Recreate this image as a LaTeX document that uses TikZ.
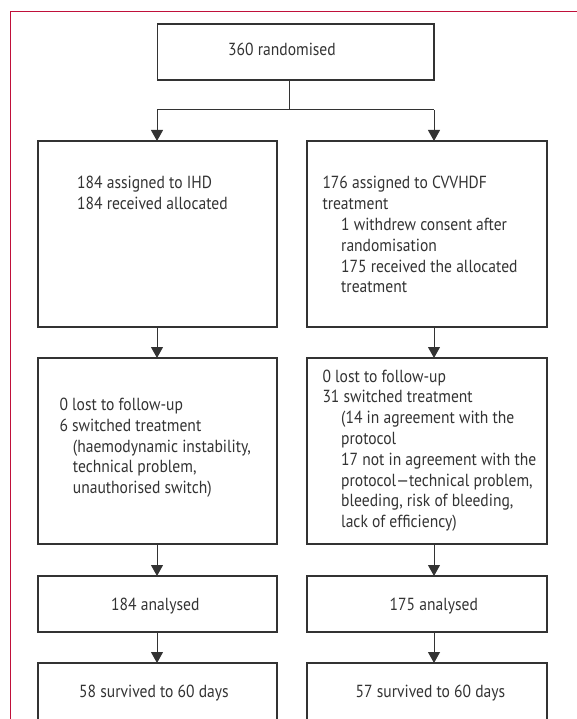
\documentclass[tikz,border=0pt]{standalone}
\usepackage{fontspec}
\setmainfont[FakeStretch=0.89]{PT Sans}
\usetikzlibrary{arrows.meta}
\definecolor{framered}{HTML}{C0103A}
\definecolor{ink}{HTML}{333333}
\newcommand{\lns}[1]{\begin{tabular}[t]{@{}l@{}}#1\end{tabular}}
\begin{document}
\begin{tikzpicture}[x=1pt,y=-1pt,
  box/.style={draw=ink, line width=1.1pt, anchor=north west, inner sep=0pt, outer sep=0pt},
  txt/.style={text=ink, font=\fontsize{17.5}{20.8}\selectfont, inner sep=0pt, anchor=base west},
  ctxt/.style={txt, anchor=base},
  conn/.style={draw=ink, line width=1pt},
  arr/.style={conn, -{Triangle[width=12pt,length=11pt]}}]
\useasboundingbox (0,0) rectangle (577,719);
\draw[framered, line width=1pt] (580,12) -- (10,12) -- (10,725);
% boxes
\node[box, minimum width=276.5pt, minimum height=56pt] (rand) at (157.5,24) {};
\node[box, minimum width=239pt, minimum height=186pt] (ihd) at (38,141) {};
\node[box, minimum width=240pt, minimum height=186pt] (cvv) at (307,141) {};
\node[box, minimum width=239pt, minimum height=186pt] (fl) at (38,358) {};
\node[box, minimum width=240pt, minimum height=186pt] (fr) at (307,358) {};
\node[box, minimum width=239pt, minimum height=56pt] (al) at (38,576) {};
\node[box, minimum width=240pt, minimum height=56pt] (ar) at (307,576) {};
\node[box, minimum width=239pt, minimum height=60pt] (sl) at (38,663) {};
\node[box, minimum width=240pt, minimum height=60pt] (sr) at (307,663) {};
% connectors
\coordinate (split) at (289,110);
\coordinate (jl) at (157,110);
\coordinate (jr) at (434,110);
\draw[conn] (rand.south -| split) -- (split);
\draw[conn] (jl) -- (jr);
\draw[arr] (jl) -- (jl |- ihd.north);
\draw[arr] (jr) -- (jr |- cvv.north);
\draw[arr] (ihd.south -| jl) -- (fl.north -| jl);
\draw[arr] (cvv.south -| jr) -- (fr.north -| jr);
\draw[arr] (fl.south -| jl) -- (al.north -| jl);
\draw[arr] (fr.south -| jr) -- (ar.north -| jr);
\draw[arr] (al.south -| jl) -- (sl.north -| jl);
\draw[arr] (ar.south -| jr) -- (sr.north -| jr);
% texts
\node[ctxt] (t0) at (282,56) {360 randomised};
\node[txt] (t1) at (77,189) {\lns{184 assigned to IHD\\184 received allocated}};
\node[txt] (t2) at (322.3,189) {\lns{176 assigned to CVVHDF\\treatment\\\hspace*{18.7pt}1 withdrew consent after\\\hspace*{18.7pt}randomisation\\\hspace*{18.7pt}175 received the allocated\\\hspace*{18.7pt}treatment}};
\node[txt] (t3) at (59.3,410.5) {\lns{0 lost to follow-up\\6 switched treatment\\\hspace*{13.4pt}(haemodynamic instability,\\\hspace*{13.4pt}technical problem,\\\hspace*{13.4pt}unauthorised switch)}};
\node[txt] (t4) at (322.3,382) {\lns{0 lost to follow-up\\31 switched treatment\\\hspace*{18.7pt}(14 in agreement with the\\\hspace*{18.7pt}protocol\\\hspace*{18.7pt}17 not in agreement with the\\\hspace*{18.7pt}protocol—technical problem,\\\hspace*{18.7pt}bleeding, risk of bleeding,\\\hspace*{18.7pt}lack of efficiency)}};
\node[ctxt] (t5) at (155.3,610) {184 analysed};
\node[ctxt] (t6) at (433.8,610) {175 analysed};
\node[ctxt] (t7) at (154,697) {58 survived to 60 days};
\node[ctxt] (t8) at (430.5,697) {57 survived to 60 days};
\end{tikzpicture}
\end{document}
